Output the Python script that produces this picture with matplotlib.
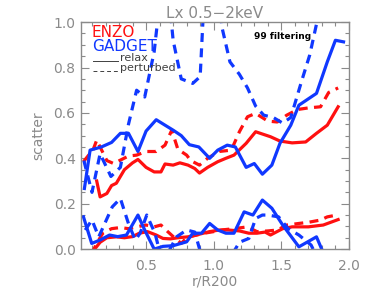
import matplotlib
matplotlib.use('Agg')
import matplotlib.pyplot as plt
from matplotlib.ticker import MultipleLocator

# GADGET relax, upper and lower envelope
gad_relax_hi_x = [0.044, 0.086, 0.17, 0.245, 0.31, 0.37, 0.44, 0.50, 0.575, 0.64, 0.70, 0.76, 0.82, 0.89,
                  0.97, 1.03, 1.10, 1.16, 1.24, 1.30, 1.36, 1.43, 1.49, 1.57, 1.63, 1.76, 1.84, 1.90, 1.96]
gad_relax_hi_y = [0.267, 0.436, 0.45, 0.47, 0.51, 0.51, 0.43, 0.52, 0.57, 0.546, 0.524, 0.50, 0.46, 0.45,
                  0.40, 0.436, 0.458, 0.45, 0.36, 0.377, 0.33, 0.37, 0.466, 0.546, 0.634, 0.686, 0.825, 0.92, 0.913]
gad_relax_lo_x = [0.037, 0.098, 0.16, 0.23, 0.29, 0.355, 0.44, 0.49, 0.56, 0.625, 0.70, 0.80, 0.845, 0.91,
                  0.97, 1.03, 1.09, 1.15, 1.225, 1.29, 1.36, 1.43, 1.51, 1.63, 1.76, 1.82]
gad_relax_lo_y = [0.142, 0.025, 0.04, 0.062, 0.055, 0.062, 0.15, 0.084, 0.0, 0.012, 0.015, 0.032, 0.07, 0.07,
                  0.113, 0.084, 0.07, 0.07, 0.164, 0.15, 0.216, 0.18, 0.106, 0.01, 0.054, -0.03]

# GADGET perturbed
gad_pert_hi_x = [0.04, 0.10, 0.16, 0.24, 0.31, 0.37, 0.43, 0.49, 0.56, 0.64, 0.70, 0.76, 0.845, 0.90, 0.97,
                 1.06, 1.12, 1.19, 1.25, 1.31, 1.37, 1.44, 1.51, 1.57, 1.65, 1.71, 1.80]
gad_pert_hi_y = [0.39, 0.25, 0.42, 0.32, 0.36, 0.55, 0.70, 0.67, 0.87, 1.30, 0.92, 0.75, 0.73, 0.76, 1.60,
                 0.98, 0.825, 0.77, 0.71, 0.63, 0.59, 0.58, 0.555, 0.58, 0.74, 0.855, 1.10]
gad_pert_lo_x = [0.05, 0.10, 0.15, 0.25, 0.31, 0.37, 0.42, 0.456, 0.505, 0.566, 0.60, 0.65, 0.725, 0.80, 0.86,
                 0.91, 1.0, 1.15, 1.19, 1.26, 1.31, 1.36, 1.40, 1.48, 1.55, 1.63, 1.72, 1.76]
gad_pert_lo_y = [0.084, 0.128, 0.054, 0.186, 0.223, 0.112, 0.04, 0.07, 0.15, 0.07, -0.01, -0.03, 0.054, 0.084, 0.075,
                 -0.03, -0.1, -0.01, 0.03, 0.047, 0.135, 0.15, 0.15, 0.142, 0.09, 0.062, 0.018, -0.03]

# ENZO relax
enzo_relax_hi_x = [0.135, 0.16, 0.21, 0.245, 0.28, 0.34, 0.40, 0.44, 0.50, 0.56, 0.61, 0.64, 0.70, 0.75, 0.81,
                   0.86, 0.895, 0.955, 1.03, 1.09, 1.15, 1.24, 1.31, 1.42, 1.49, 1.58, 1.68, 1.76, 1.84, 1.92]
enzo_relax_hi_y = [0.30, 0.23, 0.245, 0.28, 0.29, 0.35, 0.38, 0.395, 0.36, 0.34, 0.34, 0.375, 0.37, 0.38, 0.37,
                   0.355, 0.335, 0.36, 0.385, 0.40, 0.414, 0.466, 0.517, 0.495, 0.476, 0.468, 0.472, 0.51, 0.546, 0.627]
enzo_relax_lo_x = [0.12, 0.16, 0.21, 0.28, 0.34, 0.40, 0.45, 0.51, 0.575, 0.625, 0.68, 0.735, 0.81, 0.87, 0.97,
                   1.04, 1.11, 1.19, 1.26, 1.32, 1.38, 1.42, 1.51, 1.58, 1.70, 1.81, 1.92]
enzo_relax_lo_y = [0.0, 0.03, 0.05, 0.054, 0.05, 0.055, 0.07, 0.077, 0.062, 0.047, 0.045, 0.05, 0.054, 0.062, 0.077,
                   0.084, 0.084, 0.08, 0.07, 0.07, 0.075, 0.062, 0.09, 0.098, 0.098, 0.106, 0.13]

# ENZO perturbed
enzo_pert_hi_x = [0.037, 0.11, 0.135, 0.21, 0.26, 0.37, 0.43, 0.50, 0.575, 0.64, 0.69, 0.735, 0.80, 0.83, 0.895,
                  0.955, 1.04, 1.13, 1.19, 1.25, 1.31, 1.40, 1.47, 1.54, 1.62, 1.70, 1.79, 1.85, 1.92]
enzo_pert_hi_y = [0.385, 0.44, 0.48, 0.39, 0.377, 0.41, 0.414, 0.43, 0.43, 0.458, 0.524, 0.44, 0.414, 0.39, 0.37,
                  0.40, 0.43, 0.436, 0.517, 0.583, 0.598, 0.564, 0.56, 0.59, 0.615, 0.622, 0.627, 0.69, 0.71]
enzo_pert_lo_x = [0.098, 0.135, 0.18, 0.245, 0.31, 0.37, 0.43, 0.50, 0.56, 0.61, 0.66, 0.71, 0.76, 0.80, 0.86,
                  0.93, 1.0, 1.07, 1.15, 1.25, 1.32, 1.40, 1.47, 1.54, 1.63, 1.70, 1.79, 1.84, 1.91]
enzo_pert_lo_y = [-0.02, 0.025, 0.07, 0.09, 0.095, 0.09, 0.098, 0.106, 0.098, 0.106, 0.077, 0.05, 0.025, 0.05, 0.06,
                  0.07, 0.077, 0.085, 0.09, 0.098, 0.077, 0.08, 0.084, 0.106, 0.113, 0.118, 0.128, 0.142, 0.15]

RED = '#ff1010'
BLUE = '#1038ff'
GREY = '#8a8a8a'
lw = 2.3
dash = (0, (2.8, 2.0))

fig = plt.figure(figsize=(3.74, 2.91), dpi=100)
ax = fig.add_axes([0.217, 0.144, 0.716, 0.780])

ax.plot(enzo_relax_hi_x, enzo_relax_hi_y, color=RED, lw=lw)
ax.plot(enzo_relax_lo_x, enzo_relax_lo_y, color=RED, lw=lw)
ax.plot(enzo_pert_hi_x, enzo_pert_hi_y, color=RED, lw=lw, ls=dash)
ax.plot(enzo_pert_lo_x, enzo_pert_lo_y, color=RED, lw=lw, ls=dash)
ax.plot(gad_relax_hi_x, gad_relax_hi_y, color=BLUE, lw=lw)
ax.plot(gad_relax_lo_x, gad_relax_lo_y, color=BLUE, lw=lw)
ax.plot(gad_pert_hi_x, gad_pert_hi_y, color=BLUE, lw=lw, ls=dash)
ax.plot(gad_pert_lo_x, gad_pert_lo_y, color=BLUE, lw=lw, ls=dash)

ax.set_xlim(0.02, 2.0)
ax.set_ylim(0.0, 1.0)
ax.xaxis.set_major_locator(MultipleLocator(0.5))
ax.xaxis.set_minor_locator(MultipleLocator(0.1))
ax.yaxis.set_major_locator(MultipleLocator(0.2))
ax.yaxis.set_minor_locator(MultipleLocator(0.05))
ax.set_xticks([0.5, 1.0, 1.5, 2.0])
ax.set_xticklabels(['0.5', '1.0', '1.5', '2.0'])
ax.set_yticklabels(['%.1f' % v for v in ax.get_yticks()])
ax.tick_params(which='both', direction='in', top=True, right=True, colors=GREY, labelsize=10)
ax.tick_params(axis='y', pad=4)
ax.tick_params(axis='x', pad=7)
ax.tick_params(which='major', length=6, width=0.8)
ax.tick_params(which='minor', length=3, width=0.8)
for s in ax.spines.values():
    s.set_color(GREY)
    s.set_linewidth(1.0)

ax.set_title('Lx 0.5\u22122keV', color=GREY, fontsize=11, pad=3)
ax.set_xlabel('r/R200', color=GREY, fontsize=10, labelpad=1)
ax.set_ylabel('scatter', color=GREY, fontsize=10, labelpad=6)

# legend, drawn by hand in axes coordinates
ax.text(0.04, 0.955, 'ENZO', color=RED, fontsize=11, transform=ax.transAxes, va='center')
ax.text(0.04, 0.893, 'GADGET', color=BLUE, fontsize=11, transform=ax.transAxes, va='center')
ax.plot([0.045, 0.138], [0.828, 0.828], color='#404040', lw=0.7, transform=ax.transAxes)
ax.plot([0.045, 0.138], [0.786, 0.786], color='#404040', lw=0.7, ls=(0, (4, 3)), transform=ax.transAxes)
ax.text(0.145, 0.840, 'relax', color='#404040', fontsize=8, transform=ax.transAxes, va='center')
ax.text(0.145, 0.796, 'perturbed', color='#404040', fontsize=8, transform=ax.transAxes, va='center')
ax.text(0.645, 0.935, '99 filtering', color='black', fontsize=6.5, fontweight='bold',
        transform=ax.transAxes, va='center')

fig.savefig('out.png', dpi=100)
